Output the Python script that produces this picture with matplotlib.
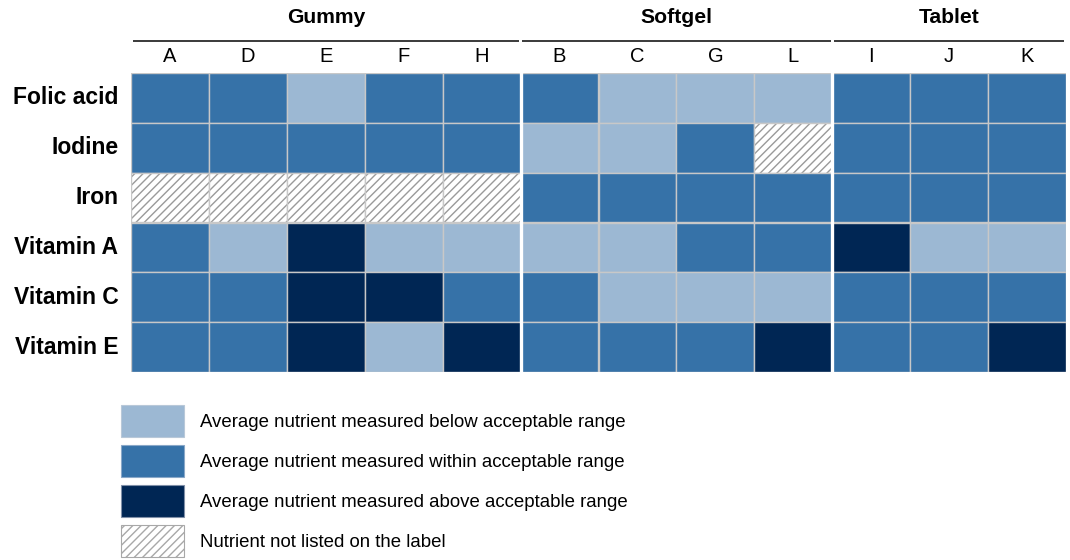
import matplotlib.pyplot as plt
from matplotlib.patches import Rectangle, Patch

plt.rcParams['font.family'] = ['Liberation Sans', 'DejaVu Sans']
plt.rcParams['hatch.linewidth'] = 1.0

# data: 0 = below, 1 = within, 2 = above, -1 = not listed on label
groups = ['Gummy', 'Softgel', 'Tablet']
group_cols = [['A', 'D', 'E', 'F', 'H'], ['B', 'C', 'G', 'L'], ['I', 'J', 'K']]
nutrients = ['Folic acid', 'Iodine', 'Iron', 'Vitamin A', 'Vitamin C', 'Vitamin E']
folic_acid = [1, 1, 0, 1, 1, 1, 0, 0, 0, 1, 1, 1]
iodine = [1, 1, 1, 1, 1, 0, 0, 1, -1, 1, 1, 1]
iron = [-1, -1, -1, -1, -1, 1, 1, 1, 1, 1, 1, 1]
vitamin_a = [1, 0, 2, 0, 0, 0, 0, 1, 1, 2, 0, 0]
vitamin_c = [1, 1, 2, 2, 1, 1, 0, 0, 0, 1, 1, 1]
vitamin_e = [1, 1, 2, 0, 2, 1, 1, 1, 2, 1, 1, 2]
status = [folic_acid, iodine, iron, vitamin_a, vitamin_c, vitamin_e]

legend_labels = ['Average nutrient measured below acceptable range',
                 'Average nutrient measured within acceptable range',
                 'Average nutrient measured above acceptable range',
                 'Nutrient not listed on the label']
colors = {0: '#9cb8d3', 1: '#3672a8', 2: '#002654'}
grid_col = '#c8c8c8'
hatch_col = '#9a9a9a'

columns = [c for g in group_cols for c in g]
ncol = len(columns)
nrow = len(nutrients)

W, H = 1070, 560
fig = plt.figure(figsize=(W / 100, H / 100), dpi=100)
ax = fig.add_axes([131 / W, 1 - 372 / H, (1066 - 131) / W, (372 - 73) / H])

for i, row in enumerate(status):
    for j, v in enumerate(row):
        if v == -1:
            ax.add_patch(Rectangle((j, i), 1, 1, facecolor='white', edgecolor=hatch_col,
                                   hatch='////', linewidth=0))
            ax.add_patch(Rectangle((j, i), 1, 1, fill=False, edgecolor=grid_col, linewidth=1))
        else:
            ax.add_patch(Rectangle((j, i), 1, 1, facecolor=colors[v], edgecolor=grid_col,
                                   linewidth=1))

ax.set_xlim(0, ncol)
ax.set_ylim(nrow, 0)
for s in ax.spines.values():
    s.set_visible(False)

ax.xaxis.tick_top()
ax.set_xticks([j + 0.5 for j in range(ncol)])
ax.set_xticklabels(columns, fontsize=14.5)
ax.set_yticks([i + 0.5 for i in range(nrow)])
ax.set_yticklabels(nutrients, fontsize=16.5, fontweight='bold', va='center')
ax.tick_params(length=0, which='both')
ax.tick_params(axis='x', pad=5)
ax.tick_params(axis='y', pad=9)

# group separators, headers and underlines
start = 0
for g, cols in zip(groups, group_cols):
    end = start + len(cols)
    if end < ncol:
        ax.axvline(end, color='white', linewidth=2.4)
    ax.plot([start + 0.02, end - 0.02], [-0.64, -0.64], color='#3a3a3a', linewidth=1.4,
            clip_on=False, solid_capstyle='butt')
    ax.text((start + end) / 2, -1.12, g, ha='center', va='center', fontsize=15.2,
            fontweight='bold')
    start = end

handles = [Patch(facecolor=colors[0], edgecolor='#b8c8d8', linewidth=0.8),
           Patch(facecolor=colors[1], edgecolor='#8aa8c8', linewidth=0.8),
           Patch(facecolor=colors[2], edgecolor='#8090a8', linewidth=0.8),
           Patch(facecolor='white', edgecolor='#a8a8a8', hatch='////', linewidth=0.8)]
fig.legend(handles, legend_labels, loc='upper left', bbox_to_anchor=(121 / W, 1 - 405 / H),
           frameon=False, fontsize=13.45, handlelength=3.37, handleheight=2.27,
           labelspacing=0.42, handletextpad=0.86, borderpad=0, borderaxespad=0)

fig.savefig('out.png', dpi=100)
